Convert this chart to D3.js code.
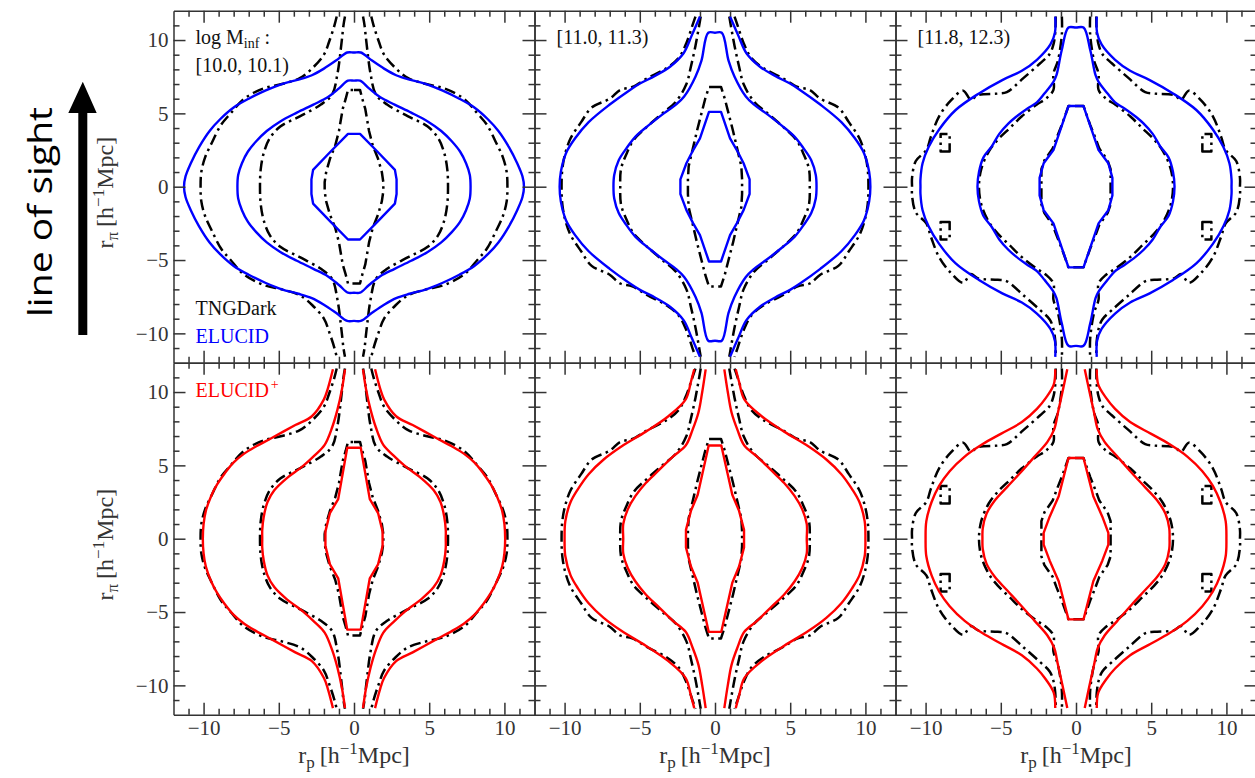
<!DOCTYPE html>
<html>
<head>
<meta charset="utf-8">
<script src="https://cdn.jsdelivr.net/npm/d3@7"></script>
<style>
  body { margin: 0; background: #fff; }
  svg text { font-family: "Liberation Serif", "Times New Roman", serif; }
</style>
</head>
<body>
<svg id="fig" width="1255" height="778"></svg>
<script>
// ---------------------------------------------------------------------------
// Contour levels of the 2D cross-correlation xi(r_p, r_pi).
// The maps are symmetric about both axes, so each contour is stored as its
// first-quadrant trace [r_p, r_pi], running from the top down to r_pi = 0.
// A trace that starts at r_p = 0 closes on itself; otherwise it leaves the
// grid at the top and bottom and is drawn as two open branches.
// ---------------------------------------------------------------------------
const massBins = ["[10.0, 10.1)", "[11.0, 11.3)", "[11.8, 12.3)"];
const majorTicks = [-10, -5, 0, 5, 10];
const minorTicks = [-11, -9, -8, -7, -6, -4, -3, -2, -1, 1, 2, 3, 4, 6, 7, 8, 9, 11];

// TNGDark, log M_inf in [10.0, 10.1)
const tng1Inner  = [[0,6.6],[0.4,6.6],[0.55,6.0],[0.75,5.3],[1.0,3.8],[1.25,2.8],[1.6,1.9],[1.85,1.0],[1.95,0.3],[1.95,0]];
const tng1Middle = [[0.6,11.6],[0.7,11.0],[0.83,9.8],[1.1,7.7],[1.45,6.3],[2.2,5.6],[3.6,4.8],[4.9,4.1],[5.6,3.3],[6.0,2.3],[6.2,1.2],[6.25,0]];
const tng1Outer  = [[1.15,11.6],[1.3,11.0],[1.65,9.9],[2.0,9.0],[2.75,8.1],[3.6,7.4],[4.8,7.0],[6.0,6.7],[7.3,6.0],[8.2,5.0],[8.85,4.2],[9.45,3.0],[9.9,2.0],[10.15,1.0],[10.2,0]];

// TNGDark, [11.0, 11.3)
const tng2Inner  = [[0,6.8],[0.4,6.8],[0.65,6.0],[0.9,5.0],[1.2,3.8],[1.45,2.7],[1.75,1.4],[1.8,0.5],[1.8,0]];
const tng2Middle = [[0.95,11.6],[1.05,11.0],[1.3,9.6],[1.6,8.2],[1.9,7.0],[2.6,5.8],[3.5,5.0],[4.5,4.1],[5.4,3.2],[5.9,2.2],[6.25,1.2],[6.3,0]];
const tng2Outer  = [[1.3,11.6],[1.5,11.0],[1.9,9.8],[2.4,8.8],[3.2,8.1],[4.5,7.4],[5.5,6.8],[6.3,6.6],[7.0,6.0],[8.2,5.4],[8.9,4.4],[9.6,3.3],[9.95,2.3],[10.15,1.2],[10.2,0]];

// TNGDark, [11.8, 12.3)
const tng3Inner  = [[0,5.5],[0.5,5.5],[0.95,4.2],[1.3,3.3],[1.55,2.6],[2.1,1.8],[2.3,1.2],[2.3,0]];
const tng3Middle = [[0.94,11.6],[0.94,10.4],[1.2,8.6],[1.5,7.7],[1.5,6.6],[2.0,6.0],[2.6,5.6],[3.6,4.8],[4.4,4.0],[5.2,3.2],[5.8,2.4],[6.3,1.2],[6.45,0]];
const tng3Outer  = [[1.35,11.6],[1.38,10.5],[1.5,9.7],[1.75,9.05],[2.4,8.4],[3.5,7.4],[4.6,6.45],[5.2,6.35],[6.5,6.25],[7.0,5.95],[7.5,6.55],[8.3,5.9],[9.1,4.8],[9.65,3.4],[9.95,2.5],[10.65,1.75],[10.9,0.6],[10.9,0]];
const tng3Island = [[8.4,2.4],[9.0,2.4],[9.0,3.6],[8.4,3.6]];

// ELUCID
const elu1Inner  = [[0,3.6],[0.4,3.6],[1.55,2.4],[2.72,1.15],[2.83,0.5],[2.83,0]];
const elu1Middle = [[0,7.23],[0.4,7.23],[1.0,6.7],[1.75,6.1],[2.7,5.6],[3.8,5.05],[4.9,4.45],[5.8,3.8],[6.5,3.1],[7.05,2.4],[7.45,1.6],[7.7,0.8],[7.75,0]];
const elu1Outer  = [[0,9.15],[0.45,9.15],[1.2,8.6],[2.0,8.05],[2.8,7.6],[3.7,7.3],[4.8,7.0],[5.9,6.55],[7.0,6.0],[8.0,5.4],[8.9,4.6],[9.6,3.8],[10.3,2.7],[10.85,1.6],[11.2,0.7],[11.3,0]];

const elu2Inner  = [[0,5.1],[0.4,5.1],[1.0,3.3],[1.45,2.5],[1.9,1.6],[2.3,0.5],[2.3,0]];
const elu2Middle = [[0,10.5],[0.45,10.5],[0.9,8.6],[1.3,7.5],[2.05,6.15],[2.6,5.6],[3.4,5.0],[4.4,4.2],[5.3,3.4],[5.9,2.6],[6.4,1.8],[6.7,0.8],[6.75,0]];
const elu2Outer  = [[1.0,11.6],[1.55,10.3],[2.09,9.1],[2.97,8.2],[4.0,7.55],[4.96,7.05],[5.65,6.6],[7.0,5.6],[8.4,4.4],[9.3,3.3],[9.9,2.3],[10.25,1.0],[10.33,0]];

const elu3Inner  = [[0,5.5],[0.5,5.5],[1.0,4.0],[1.5,2.5],[2.15,1.6],[2.42,0.6],[2.42,0]];
const elu3Middle = [[0,10.85],[0.5,10.85],[0.95,9.3],[1.3,7.6],[1.5,7.15],[2.1,6.35],[2.6,5.75],[3.2,5.35],[4.0,4.75],[4.5,4.3],[5.1,3.6],[5.6,2.75],[6.15,2.0],[6.45,1.0],[6.55,0]];
const elu3Outer  = [[1.38,11.6],[1.4,10.5],[1.7,9.7],[2.6,8.65],[3.6,7.9],[4.9,7.27],[6.45,6.36],[8.0,5.23],[9.1,3.9],[9.8,2.7],[10.2,1.6],[10.34,0.5],[10.34,0]];

// ELUCID+
const eluP1Inner  = [[0,6.2],[0.45,6.2],[1.05,2.7],[1.6,1.75],[1.9,0.5],[1.9,0]];
const eluP1Middle = [[0.6,11.55],[0.8,10.2],[1.1,8.8],[1.45,7.6],[1.95,6.4],[2.6,5.7],[3.4,4.95],[4.5,4.1],[5.3,3.3],[5.75,2.5],[6.0,1.5],[6.1,0.6],[6.1,0]];
const eluP1Outer  = [[1.4,11.55],[1.75,10.2],[2.0,9.5],[2.8,8.35],[3.9,7.75],[5.5,6.85],[6.5,6.3],[7.3,5.8],[8.0,5.2],[8.6,4.45],[9.1,3.7],[9.5,2.9],[9.85,1.9],[10.0,1.0],[10.05,0]];

const eluP2Inner  = [[0,6.35],[0.42,6.35],[1.15,3.0],[1.6,1.9],[1.93,0.6],[1.93,0]];
const eluP2Middle = [[0.62,11.55],[0.85,10.0],[1.1,8.6],[1.5,7.4],[1.95,6.35],[2.8,5.6],[3.8,4.6],[4.6,3.8],[5.3,2.9],[5.8,2.0],[6.1,1.0],[6.1,0]];
const eluP2Outer  = [[1.38,11.55],[1.6,10.7],[1.95,9.5],[3.1,8.35],[4.6,7.3],[6.2,6.3],[7.4,5.4],[8.4,4.4],[9.1,3.4],[9.6,2.5],[9.95,1.2],[10.0,0]];

const eluP3Inner  = [[0,5.5],[0.5,5.5],[1.15,2.9],[1.75,1.5],[2.15,0.4],[2.15,0]];
const eluP3Middle = [[0.58,11.55],[0.9,10.0],[1.2,8.6],[1.45,7.45],[1.9,6.6],[2.75,5.6],[3.7,4.5],[4.6,3.5],[5.4,2.6],[5.95,1.7],[6.2,0.7],[6.22,0]];
const eluP3Outer  = [[1.38,11.55],[1.48,10.5],[2.0,9.6],[2.6,8.85],[3.6,7.95],[5.0,7.15],[6.2,6.45],[7.4,5.6],[8.4,4.6],[9.1,3.6],[9.6,2.5],[9.95,1.2],[10.0,0]];

// ---------------------------------------------------------------------------
const tng     = [[tng1Inner, tng1Middle, tng1Outer], [tng2Inner, tng2Middle, tng2Outer], [tng3Inner, tng3Middle, tng3Outer]];
const tngIsl  = [[], [], [tng3Island]];
const elucid  = [[elu1Inner, elu1Middle, elu1Outer], [elu2Inner, elu2Middle, elu2Outer], [elu3Inner, elu3Middle, elu3Outer]];
const elucidP = [[eluP1Inner, eluP1Middle, eluP1Outer], [eluP2Inner, eluP2Middle, eluP2Outer], [eluP3Inner, eluP3Middle, eluP3Outer]];

const svg = d3.select("#fig");
const W = 361, H = 352;
const colX = [173.5, 534.5, 895.5];
const rowY = [10.7, 362.7];
const AX = "#333";
const BLUE = "#0000ff", RED = "#ff0000";

// unfold a first-quadrant trace into drawable branches;
// the innermost level is drawn as a plain polyline
function branches(q, level) {
  const linear = level === 0;
  const lower = q.slice(0, -1).reverse().map(([a, b]) => [a, -b]);
  const right = q.concat(lower);
  if (q[0][0] === 0) {
    const left = right.slice(1, -1).reverse().map(([a, b]) => [-a, b]);
    return [{ pts: right.concat(left), closed: true, linear }];
  }
  return [{ pts: right, closed: false, linear },
          { pts: right.map(([a, b]) => [-a, b]), closed: false, linear }];
}

function islands(r) {
  return [[1, 1], [-1, 1], [1, -1], [-1, -1]].map(([sx, sy]) => ({
    pts: r.map(([a, b]) => [sx * a, sy * b]), closed: true, linear: true
  }));
}

const defs = svg.append("defs");

rowY.forEach((y0, r) => {
  colX.forEach((x0, c) => {
    const x = d3.scaleLinear().domain([-12, 12]).range([x0, x0 + W]);
    const y = d3.scaleLinear().domain([-12, 12]).range([y0 + H, y0]);
    const id = `clip-${r}-${c}`;
    defs.append("clipPath").attr("id", id)
      .append("rect").attr("x", x0).attr("y", y0).attr("width", W).attr("height", H);

    const g = svg.append("g").attr("clip-path", `url(#${id})`);

    const draw = (list, color, dashed) => {
      list.forEach(b => {
        const curve = b.linear ? (b.closed ? d3.curveLinearClosed : d3.curveLinear)
                               : (b.closed ? d3.curveCatmullRomClosed.alpha(0.5) : d3.curveCatmullRom.alpha(0.5));
        const line = d3.line().x(d => x(d[0])).y(d => y(d[1])).curve(curve);
        g.append("path").attr("d", line(b.pts))
          .attr("fill", "none").attr("stroke", color)
          .attr("stroke-width", dashed ? 2.5 : 2.4)
          .attr("stroke-linejoin", "round")
          .attr("stroke-dasharray", dashed ? "11,4.5,2.5,4.5" : null);
      });
    };

    const blk = tng[c].flatMap((q, i) => branches(q, i)).concat(tngIsl[c].flatMap(islands));
    draw(blk, "#000", true);
    draw((r === 0 ? elucid[c] : elucidP[c]).flatMap((q, i) => branches(q, i)), r === 0 ? BLUE : RED, false);

    // axes: inward ticks on all four sides
    const styleAxis = (sel) => {
      sel.selectAll("line").attr("stroke", AX).attr("stroke-width", 1.5);
      sel.selectAll("path").attr("stroke", AX).attr("stroke-width", 1.5);
      sel.selectAll("text").attr("fill", AX)
        .style("font-family", '"Liberation Serif", "Times New Roman", serif')
        .style("font-size", "21px");
    };
    const addAxis = (gen, tx, ty, labels) => {
      const major = gen.tickValues(majorTicks).tickSize(-12).tickSizeOuter(0).tickPadding(5);
      if (!labels) major.tickFormat("");
      svg.append("g").attr("transform", `translate(${tx},${ty})`).call(major).call(styleAxis);
    };
    const addMinor = (gen, tx, ty) => {
      svg.append("g").attr("transform", `translate(${tx},${ty})`)
        .call(gen.tickValues(minorTicks).tickSize(-6).tickFormat(""))
        .call(s => s.select(".domain").remove())
        .call(styleAxis);
    };
    addMinor(d3.axisLeft(y), x0, 0);
    addMinor(d3.axisRight(y), x0 + W, 0);
    addMinor(d3.axisTop(x), 0, y0);
    addMinor(d3.axisBottom(x), 0, y0 + H);
    addAxis(d3.axisLeft(y), x0, 0, c === 0);
    addAxis(d3.axisRight(y), x0 + W, 0, false);
    addAxis(d3.axisTop(x), 0, y0, false);
    addAxis(d3.axisBottom(x), 0, y0 + H, r === 1);

    // axis titles
    if (r === 1) {
      const t = svg.append("text").attr("x", x0 + W / 2).attr("y", 763)
        .attr("text-anchor", "middle").attr("font-size", 24).attr("fill", AX);
      t.append("tspan").text("r");
      t.append("tspan").attr("dy", 5).attr("font-size", 17).text("p");
      t.append("tspan").attr("dy", -5).attr("dx", 5).text("[h");
      t.append("tspan").attr("dy", -9).attr("font-size", 17).text("\u22121");
      t.append("tspan").attr("dy", 9).text("Mpc]");
    }
    if (c === 0) {
      const t = svg.append("text")
        .attr("transform", `translate(113,${y0 + H / 2 + 6}) rotate(-90)`)
        .attr("text-anchor", "middle").attr("font-size", 24).attr("fill", AX);
      t.append("tspan").text("r");
      t.append("tspan").attr("dy", 5).attr("font-size", 17).text("\u03c0");
      t.append("tspan").attr("dy", -5).attr("dx", 5).text("[h");
      t.append("tspan").attr("dy", -9).attr("font-size", 17).text("\u22121");
      t.append("tspan").attr("dy", 9).text("Mpc]");
    }

    // panel annotations
    if (r === 0) {
      if (c === 0) {
        const t = svg.append("text").attr("x", x0 + 22).attr("y", 43.5).attr("font-size", 20).attr("fill", "#111");
        t.append("tspan").text("log M");
        t.append("tspan").attr("dy", 4).attr("font-size", 14).text("inf");
        t.append("tspan").attr("dy", -4).text(" :");
        svg.append("text").attr("x", x0 + 22).attr("y", 71.5).attr("font-size", 20).attr("fill", "#111").text(massBins[0]);
        svg.append("text").attr("x", x0 + 22).attr("y", 315).attr("font-size", 20).attr("fill", "#111").text("TNGDark");
        svg.append("text").attr("x", x0 + 22).attr("y", 343).attr("font-size", 20).attr("fill", BLUE).text("ELUCID");
      } else {
        svg.append("text").attr("x", x0 + 22).attr("y", 43.5).attr("font-size", 20).attr("fill", "#111").text(massBins[c]);
      }
    } else if (c === 0) {
      const t = svg.append("text").attr("x", x0 + 22).attr("y", 396.5).attr("font-size", 20).attr("fill", RED);
      t.append("tspan").text("ELUCID");
      t.append("tspan").attr("dy", -8).attr("dx", 2).attr("font-size", 14).text("+");
    }
  });
});

// line-of-sight arrow and caption
svg.append("path")
  .attr("d", "M78.3,335 L87.3,335 L87.3,113 L96.7,113 L82.8,81.7 L68.3,113 L78.3,113 Z")
  .attr("fill", "#000");
svg.append("text")
  .attr("transform", "translate(52,212) rotate(-90)")
  .attr("text-anchor", "middle")
  .style("font-family", '"Open Sans", "Noto Sans", sans-serif')
  .attr("font-size", 33)
  .attr("textLength", 210).attr("lengthAdjust", "spacingAndGlyphs")
  .attr("fill", "#000")
  .text("line of sight");
</script>
</body>
</html>
